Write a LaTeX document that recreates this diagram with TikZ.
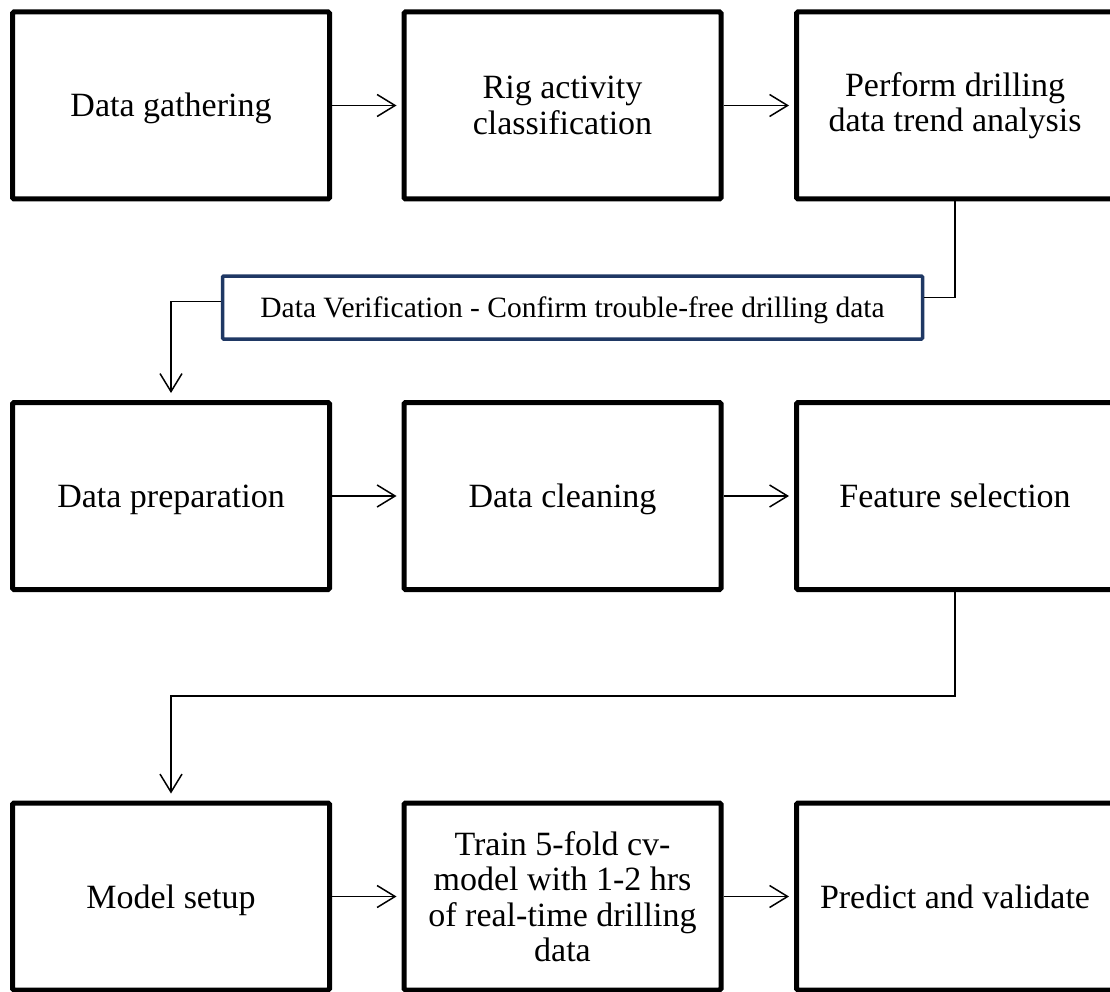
\documentclass[tikz,border=0pt]{standalone}
\usepackage{fontspec}
\setmainfont{Liberation Serif}
\usetikzlibrary{arrows.meta,calc}
\definecolor{navy}{HTML}{1F3864}
\begin{document}
\begin{tikzpicture}[x=1pt,y=-1pt,
  stepbox/.style={draw=black,line width=5pt,rounded corners=1.5pt,
    minimum width=317pt,minimum height=187pt,inner sep=0pt,align=center,
    font=\fontsize{34}{35.5}\selectfont},
  oneline/.style={text height=23pt,text depth=0pt},
  checkbox/.style={draw=navy,line width=3.5pt,rounded corners=1pt,
    minimum width=700pt,minimum height=63pt,inner sep=0pt,
    text height=20pt,text depth=0pt,
    font=\fontsize{29.5}{31}\selectfont},
  flow/.style={line width=1.5pt,-{Straight Barb[length=18pt,width=22pt]},shorten >=5pt},
  link/.style={line width=1.5pt}]
\clip (0,0) rectangle (1110,992);
\fill[white] (0,0) rectangle (1110,992);

% row 1
\node[stepbox,oneline] (b1) at (171,105.5) {Data gathering};
\node[stepbox] (b2) at (562.5,105.5) {Rig activity\\classification};
\node[stepbox] (b3) at (955,105.5) {Perform drilling\\data trend analysis};

% verification banner
\node[checkbox] (ver) at (572.5,307.5) {Data Verification - Confirm trouble-free drilling data};

% row 2
\node[stepbox,oneline] (b4) at (171,496) {Data preparation};
\node[stepbox,oneline] (b5) at (562.5,496) {Data cleaning};
\node[stepbox,oneline] (b6) at (955,496) {Feature selection};

% row 3
\node[stepbox,oneline] (b7) at (171,896.5) {Model setup};
\node[stepbox] (b8) at (562.5,896.5) {Train 5-fold cv-\\model with 1-2 hrs\\of real-time drilling\\data};
\node[stepbox,oneline] (b9) at (955,896.5) {Predict and validate};

% horizontal flow
\draw[flow] (b1.east) -- (b2.west);
\draw[flow] (b2.east) -- (b3.west);
\draw[flow] (b4.east) -- (b5.west);
\draw[flow] (b5.east) -- (b6.west);
\draw[flow] (b7.east) -- (b8.west);
\draw[flow] (b8.east) -- (b9.west);

% row 1 -> verification -> row 2
\coordinate (vin) at ($(ver.east)+(0,-10)$);
\coordinate (vout) at ($(ver.west)+(0,-6)$);
\draw[link] (b3.south) |- (vin);
\draw[flow,shorten >=7pt] (vout) -| (b4.north);

% row 2 -> row 3
\coordinate (turn) at (955,696);
\draw[flow,shorten >=7pt] (b6.south) -- (turn) -| (b7.north);
\end{tikzpicture}
\end{document}
